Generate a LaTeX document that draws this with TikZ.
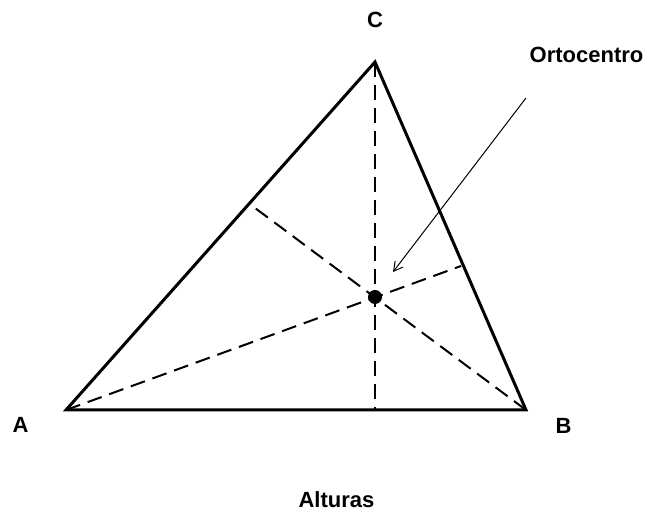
\documentclass[tikz,border=0pt]{standalone}
\usepackage{fontspec}
\setmainfont{Liberation Sans}
\usetikzlibrary{positioning,arrows.meta}

\begin{document}
\begin{tikzpicture}[x=0.5pt,y=-0.5pt,
every node/.style={align=center, font=\fontsize{11}{13}\selectfont\bfseries}]

\useasboundingbox (0,0) rectangle (648,512);

% Vertices
\coordinate (A) at (66,410);
\coordinate (B) at (526,410);
\coordinate (C) at (375,62);

% Feet of the heights
\coordinate (footA) at (461,266);
\coordinate (footB) at (251,205);
\coordinate (footC) at (375,410);

% Labels
\node (labelA) at (20.5,424.5) {A};
\node (labelB) at (563.5,425.5) {B};
\node (labelC) at (375,19.5) {C};
\node (orto) at (586.5,55) {Ortocentro};
\node (title) at (336.5,499.5) {Alturas};

% Triangle
\draw[line width=1.5pt, line join=miter] (A) -- (B) -- (C) -- cycle;

% Heights
\draw[line width=1pt, dash pattern=on 7.5pt off 4pt] (A) -- (footA);
\draw[line width=1pt, dash pattern=on 7.5pt off 4pt] (B) -- (footB);
\draw[line width=1pt, dash pattern=on 7.5pt off 4pt] (C) -- (footC);

% Orthocenter
\node[circle, fill, inner sep=0pt, minimum size=7pt] (H) at (375,297) {};

% Arrow
\coordinate (arrowTail) at (526,98);
\coordinate (arrowTip) at (393,272);
\draw[-{Straight Barb[length=4.5pt,width=5pt]}, line width=0.5pt] (arrowTail) -- (arrowTip);

\end{tikzpicture}
\end{document}
